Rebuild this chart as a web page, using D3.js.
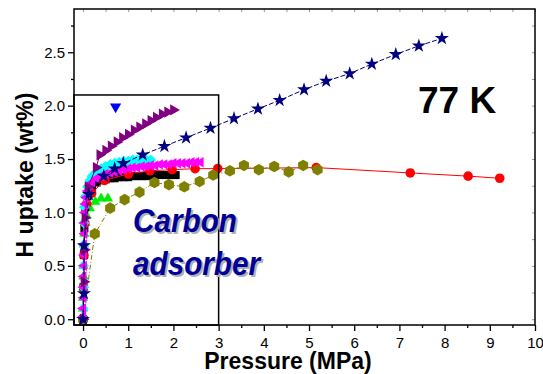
<!DOCTYPE html>
<html>
<head>
<meta charset="utf-8">
<script src="https://cdn.jsdelivr.net/npm/d3@7"></script>
<style>
  body { margin: 0; background: #fff; }
  svg { display: block; font-family: "Liberation Sans", Arial, sans-serif; }
</style>
</head>
<body>
<script>
// values (MPa, wt%)
const blackX = [0, 0.01, 0.02, 0.03, 0.05, 0.1, 0.2, 0.3, 0.4, 0.5, 0.6, 0.7, 0.8, 0.9, 1.0, 1.1, 1.2, 1.3, 1.4, 1.5, 1.6, 1.7, 1.8, 1.9, 2.0, 2.05]
const blackY = [0, 0.3, 0.6, 0.85, 1.05, 1.15, 1.24, 1.28, 1.3, 1.31, 1.32, 1.32, 1.33, 1.33, 1.33, 1.34, 1.34, 1.34, 1.34, 1.35, 1.35, 1.35, 1.35, 1.35, 1.35, 1.35]

const redX = [0, 0.01, 0.02, 0.04, 0.08, 0.19, 0.48, 1.0, 1.48, 1.97, 2.48, 2.98, 5.16, 7.24, 8.52, 9.22]
const redY = [0, 0.3, 0.6, 0.9, 1.08, 1.18, 1.3, 1.36, 1.39, 1.4, 1.41, 1.41, 1.42, 1.37, 1.34, 1.32]

const greenX = [0, 0, 0, 0.01, 0.01, 0.01, 0.02, 0.02, 0.03, 0.05, 0.08, 0.15, 0.27, 0.4, 0.55]
const greenY = [0.02, 0.1, 0.2, 0.3, 0.4, 0.5, 0.6, 0.7, 0.8, 0.9, 0.97, 1.04, 1.1, 1.13, 1.13]

const blueX = [0.72]
const blueY = [1.99]

const cyanX = [0, 0.01, 0.01, 0.02, 0.02, 0.03, 0.05, 0.1, 0.15, 0.2, 0.3, 0.4, 0.5, 0.6, 0.7, 0.8, 0.9, 1.0, 1.1, 1.2, 1.3, 1.4, 1.5]
const cyanY = [0.1, 0.3, 0.5, 0.7, 0.9, 1.05, 1.15, 1.24, 1.3, 1.34, 1.38, 1.41, 1.43, 1.45, 1.46, 1.47, 1.48, 1.48, 1.49, 1.49, 1.49, 1.49, 1.49]

const magentaX = [0, 0, 0.01, 0.01, 0.01, 0.02, 0.02, 0.02, 0.03, 0.03, 0.04, 0.05, 0.07, 0.1, 0.15, 0.2, 0.3, 0.4, 0.5, 0.6, 0.7, 0.8, 0.9, 1.0, 1.1, 1.2, 1.3, 1.4, 1.5, 1.6, 1.7, 1.8, 1.9, 2.0, 2.1, 2.2, 2.3, 2.4, 2.5, 2.6]
const magentaY = [0.02, 0.1, 0.2, 0.3, 0.4, 0.5, 0.6, 0.7, 0.8, 0.9, 1.0, 1.08, 1.14, 1.2, 1.25, 1.28, 1.32, 1.34, 1.36, 1.37, 1.38, 1.39, 1.4, 1.41, 1.42, 1.42, 1.43, 1.43, 1.44, 1.44, 1.45, 1.45, 1.45, 1.46, 1.46, 1.46, 1.46, 1.47, 1.47, 1.47]

const purpleX = [0, 0.02, 0.03, 0.04, 0.11, 0.29, 0.37, 0.5, 0.62, 0.75, 0.87, 1.0, 1.13, 1.25, 1.38, 1.5, 1.62, 1.75, 1.87, 2.0]
const purpleY = [0, 0.35, 0.65, 0.95, 1.24, 1.42, 1.54, 1.58, 1.62, 1.66, 1.7, 1.73, 1.77, 1.8, 1.83, 1.86, 1.89, 1.92, 1.94, 1.96]

const oliveX = [0, 0.26, 0.6, 0.92, 1.25, 1.58, 1.9, 2.24, 2.58, 2.88, 3.25, 3.56, 3.89, 4.23, 4.55, 4.87, 5.19]
const oliveY = [0, 0.8, 1.04, 1.12, 1.19, 1.28, 1.26, 1.24, 1.29, 1.35, 1.39, 1.44, 1.4, 1.43, 1.38, 1.44, 1.4]

const navyX = [0, 0.02, 0.02, 0.13, 0.46, 0.7, 0.89, 1.32, 1.8, 2.28, 2.82, 3.34, 3.87, 4.35, 4.89, 5.38, 5.9, 6.39, 6.92, 7.43, 7.94]
const navyY = [0, 0.24, 0.69, 1.17, 1.34, 1.41, 1.46, 1.54, 1.62, 1.7, 1.79, 1.88, 1.97, 2.05, 2.15, 2.23, 2.3, 2.39, 2.48, 2.56, 2.63]

const xTicks = [0, 1, 2, 3, 4, 5, 6, 7, 8, 9, 10]
const yTicks = [0, 0.5, 1.0, 1.5, 2.0, 2.5]

const w = 543
const h = 374
const padL = 74
const padR = 535
const padT = 9
const padB = 325

const x = d3.scaleLinear().domain([-0.2, 10]).range([padL, padR])
const y = d3.scaleLinear().domain([-0.054, 2.905]).range([padB, padT])

const svg = d3.select('body').append('svg').attr('width', w).attr('height', h)

// marker path around the origin
const shape = (type, r) => {
  const poly = (n, rot) => {
    const pts = d3.range(n).map((i) => {
      const a = rot + (i * 2 * Math.PI) / n
      return [r * Math.cos(a), r * Math.sin(a)]
    })
    return 'M' + pts.map((p) => p.join(',')).join('L') + 'Z'
  }
  if (type === 'square') return `M${-r},${-r}H${r}V${r}H${-r}Z`
  if (type === 'circle') return d3.symbol(d3.symbolCircle, Math.PI * r * r)()
  if (type === 'up') return poly(3, -Math.PI / 2)
  if (type === 'down') return poly(3, Math.PI / 2)
  if (type === 'left') return poly(3, Math.PI)
  if (type === 'right') return poly(3, 0)
  if (type === 'diamond') return poly(4, -Math.PI / 2)
  if (type === 'hexagon') return poly(6, -Math.PI / 2)
  if (type === 'star') return d3.symbol(d3.symbolStar, r * r)()
}

const series = [
  { xs: greenX, ys: greenY, color: '#00ee00', type: 'up', r: 6, dash: null },
  { xs: blackX, ys: blackY, color: '#000000', type: 'square', r: 4, dash: null },
  { xs: redX, ys: redY, color: '#ff0000', type: 'circle', r: 4.8, dash: null },
  { xs: oliveX, ys: oliveY, color: '#808000', type: 'hexagon', r: 5.8, dash: '5,2,1,2' },
  { xs: cyanX, ys: cyanY, color: '#00ffff', type: 'diamond', r: 5.5, dash: null },
  { xs: magentaX, ys: magentaY, color: '#ff00ff', type: 'left', r: 6, dash: null },
  { xs: purpleX, ys: purpleY, color: '#800080', type: 'right', r: 6.5, dash: null },
  { xs: navyX, ys: navyY, color: '#000080', type: 'star', r: 7.8, dash: '5,2' },
  { xs: blueX, ys: blueY, color: '#0000ff', type: 'down', r: 6.5, dash: null },
]

const line = d3.line().x((d) => x(d[0])).y((d) => y(d[1]))

series.forEach((s) => {
  const pts = s.xs.map((v, i) => [v, s.ys[i]])
  const g = svg.append('g')
  if (pts.length > 1) {
    g.append('path')
      .attr('d', line(pts))
      .attr('fill', 'none')
      .attr('stroke', s.color)
      .attr('stroke-width', 1)
      .attr('stroke-dasharray', s.dash)
  }
  g.selectAll('path.m')
    .data(pts)
    .enter()
    .append('path')
    .attr('class', 'm')
    .attr('transform', (d) => `translate(${x(d[0])},${y(d[1])})`)
    .attr('d', shape(s.type, s.r))
    .attr('fill', s.color)
})

// frame: top and right with small grey inward ticks
svg.append('g')
  .attr('transform', `translate(0,${padT})`)
  .call(d3.axisTop(x).tickValues(d3.range(0, 10.01, 0.5)).tickSize(-3).tickFormat(''))
  .call((g) => g.selectAll('.tick line').attr('stroke', '#999'))
  .call((g) => g.select('.domain').remove())
svg.append('g')
  .attr('transform', `translate(${padR},0)`)
  .call(d3.axisRight(y).tickValues(d3.range(0, 2.8, 0.25)).tickSize(-3).tickFormat(''))
  .call((g) => g.selectAll('.tick line').attr('stroke', '#999'))
  .call((g) => g.select('.domain').remove())
svg.append('rect')
  .attr('x', padL).attr('y', padT)
  .attr('width', padR - padL).attr('height', padB - padT)
  .attr('fill', 'none').attr('stroke', '#000').attr('stroke-width', 1.5)

// inset box
svg.append('rect')
  .attr('x', padL).attr('y', y(2.1))
  .attr('width', x(3) - padL).attr('height', padB - y(2.1))
  .attr('fill', 'none').attr('stroke', '#000').attr('stroke-width', 1.5)

// axes
const xAxis = d3.axisBottom(x).tickValues(xTicks).tickSize(6).tickPadding(6).tickFormat(d3.format('d'))
const xMinor = d3.axisBottom(x).tickValues(d3.range(0.5, 10, 1)).tickSize(3).tickFormat('')
const yAxis = d3.axisLeft(y).tickValues(yTicks).tickSize(6).tickPadding(3).tickFormat(d3.format('.1f'))
const yMinor = d3.axisLeft(y).tickValues(d3.range(0.25, 2.8, 0.5)).tickSize(3).tickFormat('')

const styleAxis = (g) => {
  g.select('.domain').remove()
  g.selectAll('line').attr('stroke', '#000').attr('stroke-width', 1.3)
  g.selectAll('text').attr('font-size', 15).attr('fill', '#000')
}
svg.append('g').attr('transform', `translate(0,${padB})`).call(xAxis).call(styleAxis)
svg.append('g').attr('transform', `translate(0,${padB})`).call(xMinor).call(styleAxis)
svg.append('g').attr('transform', `translate(${padL},0)`).call(yAxis).call(styleAxis)
svg.append('g').attr('transform', `translate(${padL},0)`).call(yMinor).call(styleAxis)

// titles
svg.append('text')
  .attr('x', 288).attr('y', 369)
  .attr('text-anchor', 'middle')
  .attr('font-size', 23).attr('font-weight', 'bold')
  .text('Pressure (MPa)')
svg.append('text')
  .attr('transform', 'translate(33,175) rotate(-90)')
  .attr('text-anchor', 'middle')
  .attr('font-size', 23).attr('font-weight', 'bold')
  .text('H uptake (wt%)')

svg.append('text')
  .attr('x', 418).attr('y', 113)
  .attr('font-size', 37).attr('font-weight', 'bold')
  .text('77 K')

// label with a soft grey shadow, slightly condensed
const label = ['Carbon', 'adsorber']
const labelY = [232, 275]
label.forEach((t, i) => {
  svg.append('text')
    .attr('transform', `translate(135,${labelY[i] + 2}) scale(0.9,1)`)
    .attr('font-size', 33).attr('font-weight', 'bold').attr('font-style', 'italic')
    .attr('fill', '#b0b0b0')
    .text(t)
  svg.append('text')
    .attr('transform', `translate(133,${labelY[i]}) scale(0.9,1)`)
    .attr('font-size', 33).attr('font-weight', 'bold').attr('font-style', 'italic')
    .attr('fill', '#000099')
    .text(t)
})
</script>
</body>
</html>
